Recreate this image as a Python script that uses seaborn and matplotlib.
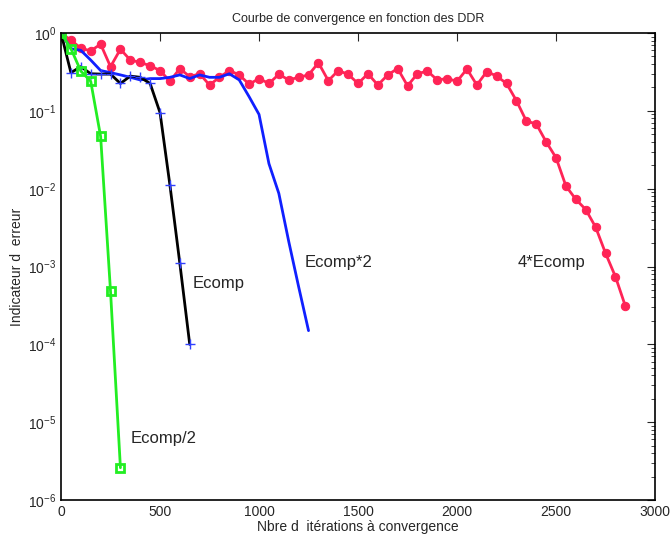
import numpy as np
import pandas as pd
import matplotlib
matplotlib.use("Agg")
import matplotlib.pyplot as plt
import seaborn as sns
from matplotlib.ticker import LogLocator, NullFormatter

# données
iters_half = [0, 50, 100, 150, 200, 250, 300]
err_half = [1.0, 0.63, 0.325, 0.24, 0.047, 4.8e-4, 2.6e-6]

iters_ecomp = list(range(0, 651, 50))
err_ecomp = [1.0, 0.31, 0.37, 0.30, 0.297, 0.297, 0.225, 0.28, 0.27, 0.225,
             0.095, 0.0111, 1.1e-3, 1.0e-4]

iters_x2 = list(range(0, 1251, 50))
err_x2 = [1.0, 0.63, 0.60, 0.45, 0.33, 0.31, 0.29, 0.27, 0.25, 0.26,
          0.26, 0.27, 0.29, 0.26, 0.29, 0.27, 0.27, 0.30, 0.25, 0.152,
          0.09, 0.021, 0.0087, 0.0021, 5.5e-4, 1.5e-4]

iters_x4 = list(range(0, 2851, 50))
err_x4 = [1.0, 0.81, 0.64, 0.59, 0.72, 0.37, 0.62, 0.45, 0.42, 0.38,
          0.33, 0.24, 0.35, 0.275, 0.30, 0.215, 0.27, 0.33, 0.29, 0.22,
          0.26, 0.225, 0.295, 0.25, 0.27, 0.29, 0.415, 0.244, 0.33, 0.295,
          0.225, 0.30, 0.215, 0.29, 0.35, 0.21, 0.30, 0.325, 0.25, 0.26,
          0.24, 0.345, 0.215, 0.32, 0.28, 0.225, 0.135, 0.074, 0.068, 0.040,
          0.025, 0.0108, 0.0073, 0.0054, 0.0032, 0.00148, 0.00074, 0.00031]

sns.set_style("white")
plt.rcParams['font.family'] = ['Liberation Sans', 'DejaVu Sans']

fig = plt.figure(figsize=(6.72, 5.42), dpi=100)
ax = fig.add_axes([0.0908, 0.0775, 0.884, 0.8615])

# 4*Ecomp (rouge)
sns.lineplot(x=iters_x4, y=err_x4, ax=ax, color='#ff2456', lw=2,
             marker='o', markersize=6, markeredgecolor='#ff2456')
# Ecomp*2 (bleu)
sns.lineplot(x=iters_x2, y=err_x2, ax=ax, color='#1020ff', lw=2)
# Ecomp (noir, croix bleues)
sns.lineplot(x=iters_ecomp, y=err_ecomp, ax=ax, color='black', lw=2,
             marker='+', markersize=7, markeredgecolor='#3040ff', markeredgewidth=1)
# Ecomp/2 (vert)
sns.lineplot(x=iters_half, y=err_half, ax=ax, color='#22ee22', lw=2,
             marker='s', markersize=6, markerfacecolor='none',
             markeredgecolor='#22ee22', markeredgewidth=2)

ax.set_yscale('log')
ax.set_xlim(0, 3000)
ax.set_ylim(1e-6, 1)
ax.set_xticks(range(0, 3001, 500))
ax.yaxis.set_major_locator(LogLocator(base=10, numticks=10))
ax.yaxis.set_minor_locator(LogLocator(base=10, subs=np.arange(2, 10), numticks=10))
ax.yaxis.set_minor_formatter(NullFormatter())

ax.tick_params(which='both', direction='in', top=True, right=True, labelsize=10)
ax.tick_params(which='major', length=6, width=0.8)
ax.tick_params(which='minor', length=3, width=0.6)
for s in ax.spines.values():
    s.set_linewidth(1.2)
    s.set_color('black')

ax.set_title('Courbe de convergence en fonction des DDR', fontsize=9, pad=8)
ax.set_xlabel('Nbre d  itérations à convergence', fontsize=10, labelpad=1)
ax.set_ylabel('Indicateur d  erreur', fontsize=10, labelpad=3)

ax.text(667, 6.1e-4, 'Ecomp', fontsize=12, va='center')
ax.text(1232, 1.14e-3, 'Ecomp*2', fontsize=12, va='center')
ax.text(2308, 1.14e-3, '4*Ecomp', fontsize=12, va='center')
ax.text(354, 6.2e-6, 'Ecomp/2', fontsize=12, va='center')

fig.savefig('out.png', dpi=100)
